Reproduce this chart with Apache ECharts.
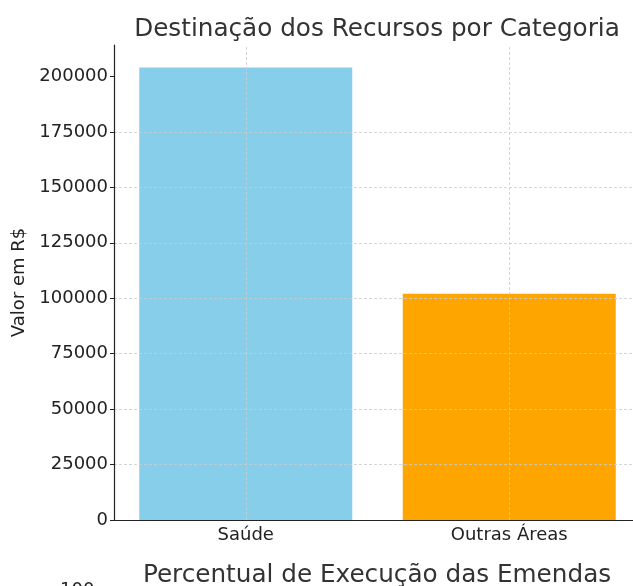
<!DOCTYPE html>
<html>
<head>
	<meta charset="utf-8">
	<title>Destinação dos Recursos por Categoria</title>
	<script src="https://cdn.jsdelivr.net/npm/echarts@6/dist/echarts.min.js"></script>
	<style>
        html,body{
            height:100%;
            width: 100%;
            margin: 0;
            padding: 0;
            background: #ffffff;
        }
        #chart{
            width: 633px;
            height: 586px;
        }
    </style>
</head>
<body>
	<div id="chart"></div>
	<script type="text/javascript">
		var categories = ['Saúde', 'Outras Áreas'];
		var values = [204000, 102000];
		var barColors = ['#87CEEB', '#FFA500'];
		var yTicks = [0, 25000, 50000, 75000, 100000, 125000, 150000, 175000, 200000];

		var chart = echarts.init(document.getElementById('chart'));
		var font = 'DejaVu Sans';
		var gridLine = {type: [3, 2], color: '#cccccc', width: 0.8};

		var option = {
			backgroundColor: '#ffffff',
			animation: false,
			textStyle: {fontFamily: font},
			title: [{
				text: 'Destinação dos Recursos por Categoria',
				left: 372, top: 12, textAlign: 'center',
				textStyle: {fontFamily: font, fontSize: 24.7, fontWeight: 'normal', color: '#333333'}
			}, {
				text: 'Percentual de Execução das Emendas',
				left: 372, top: 558, textAlign: 'center',
				textStyle: {fontFamily: font, fontSize: 24.7, fontWeight: 'normal', color: '#333333'}
			}, {
				text: '100',
				left: 55, top: 576,
				textStyle: {fontFamily: font, fontSize: 18, fontWeight: 'normal', color: '#222222'}
			}],
			grid: {left: 114, width: 527, top: 45, bottom: 66, containLabel: false, outerBoundsMode: 'none'},
			xAxis: {
				type: 'category',
				data: categories,
				z: 3,
				axisLine: {lineStyle: {color: '#222222', width: 1.2}},
				axisTick: {alignWithLabel: true, length: 4, lineStyle: {color: '#222222'}},
				axisLabel: {fontFamily: font, fontSize: 18, color: '#222222', margin: 6},
				splitLine: {show: false}
			},
			yAxis: {
				type: 'value',
				min: 0, max: 214200, interval: 25000,
				z: 3,
				name: 'Valor em R$',
				nameLocation: 'middle',
				nameGap: 81,
				nameTextStyle: {fontFamily: font, fontSize: 18, color: '#222222'},
				axisLine: {show: true, lineStyle: {color: '#222222', width: 1.2}},
				axisTick: {show: true, length: 4, customValues: yTicks, lineStyle: {color: '#222222'}},
				axisLabel: {fontFamily: font, fontSize: 18, color: '#222222', margin: 6,
					customValues: yTicks,
					formatter: function (v) { return String(v); }},
				splitLine: {show: true, showMaxLine: false, lineStyle: gridLine}
			},
			series: [{
				type: 'bar',
				barWidth: 213,
				data: values.map(function (v, i) {
					return {value: v, itemStyle: {color: barColors[i]}};
				}),
				markLine: {
					silent: true,
					symbol: 'none',
					label: {show: false},
					lineStyle: gridLine,
					data: categories.map(function (c) { return {xAxis: c}; })
				}
			}]
		};

		chart.setOption(option);
	</script>
</body>
</html>
